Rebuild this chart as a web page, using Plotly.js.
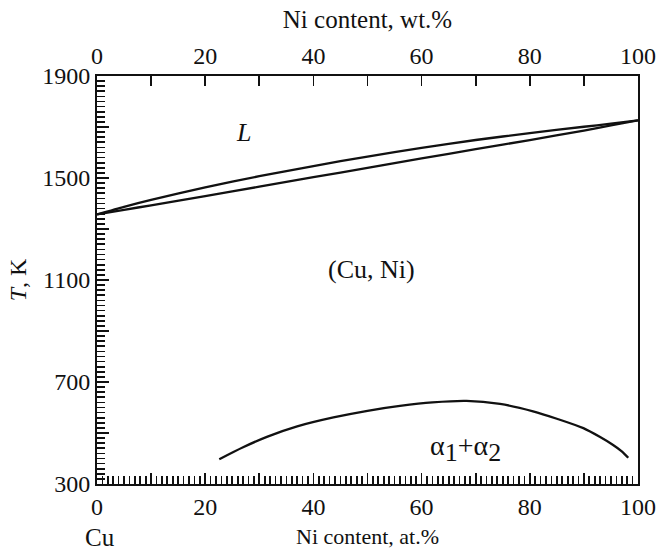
<!DOCTYPE html>
<html>
<head>
<meta charset="utf-8">
<script src="https://cdn.plot.ly/plotly-3.0.1.min.js"></script>
<style>html,body{margin:0;padding:0;background:#fff;}#chart{width:662px;height:552px;}</style>
</head>
<body>
<div id="chart"></div>
<script>
// Composition, at.% Ni
const liqX = [0, 5, 10, 20, 30, 40, 50, 60, 70, 80, 90, 95, 100];
const liqT = [1357, 1387, 1414, 1463, 1507, 1547, 1584, 1618, 1649, 1676, 1701, 1713, 1726];
const solX = [0, 5, 10, 20, 30, 40, 50, 60, 70, 80, 90, 95, 100];
const solT = [1357, 1375, 1393, 1429, 1466, 1503, 1540, 1577, 1613, 1649, 1686, 1706, 1726];
const gapX = [22.6, 27, 31.4, 37, 43.7, 50, 56, 62, 68.3, 74.5, 80.6, 85, 89.9, 93, 95.4, 97, 98.2];
const gapT = [397, 444, 485, 526, 561, 587, 606, 620, 626, 614, 585, 556, 519, 484, 453, 428, 403];

// tick labels shown on the major ticks (every other major tick is left blank)
const xLabelAlias = {10: ' ', 30: ' ', 50: ' ', 70: ' ', 90: ' '};
const yLabelAlias = {500: ' ', 900: ' ', 1300: ' ', 1700: ' '};

const labelX = ['Cu', 'Ni'];
const labelPos = [0.5, 100.7];

const lineStyle = {color: '#111', width: 2.3};
const serif = 'Liberation Serif, Times New Roman, serif';

const traces = [
  {x: liqX, y: liqT, mode: 'lines', line: Object.assign({shape: 'spline', smoothing: 0.6}, lineStyle), hoverinfo: 'skip'},
  {x: solX, y: solT, mode: 'lines', line: Object.assign({shape: 'spline', smoothing: 0.6}, lineStyle), hoverinfo: 'skip'},
  {x: gapX, y: gapT, mode: 'lines', line: Object.assign({shape: 'spline', smoothing: 0.8}, lineStyle), hoverinfo: 'skip'},
  {x: [0, 100], y: [300, 300], xaxis: 'x2', mode: 'lines', line: {width: 0}, hoverinfo: 'skip'}
];

const tickFont = {family: serif, size: 24, color: '#111'};

const layout = {
  width: 662, height: 552,
  margin: {l: 97, r: 24, t: 76, b: 68},
  paper_bgcolor: '#fff', plot_bgcolor: '#fff',
  showlegend: false,
  font: {family: serif, size: 20, color: '#111'},
  xaxis: {
    range: [0, 100], showgrid: false, zeroline: false,
    showline: true, linecolor: '#111', linewidth: 2,
    tickmode: 'linear', tick0: 0, dtick: 10,
    ticks: 'inside', ticklen: 11, tickwidth: 1.6, tickcolor: '#111',
    labelalias: xLabelAlias, tickfont: tickFont,
    minor: {ticks: 'inside', dtick: 1, ticklen: 8, tickwidth: 1.7, tickcolor: '#111'},
    title: {text: 'Ni content, at.%', font: {size: 22}, standoff: 10}
  },
  xaxis2: {
    range: [0, 100], overlaying: 'x', side: 'top', showgrid: false, zeroline: false,
    showline: true, linecolor: '#111', linewidth: 2,
    tickmode: 'linear', tick0: 0, dtick: 10,
    ticks: 'inside', ticklen: 10, tickwidth: 1.6, tickcolor: '#111',
    labelalias: xLabelAlias, tickfont: tickFont,
    title: {text: 'Ni content, wt.%', font: {size: 25}, standoff: 8}
  },
  yaxis: {
    range: [300, 1900], showgrid: false, zeroline: false,
    showline: true, linecolor: '#111', linewidth: 2, mirror: true,
    tickmode: 'linear', tick0: 300, dtick: 200,
    ticks: 'inside', ticklen: 12, tickwidth: 1.6, tickcolor: '#111',
    labelalias: yLabelAlias, tickfont: tickFont,
    minor: {ticks: 'inside', dtick: 20, ticklen: 8, tickwidth: 1.7, tickcolor: '#111'},
    title: {text: '<i>T</i>, K', font: {size: 24}, standoff: 9}
  },
  annotations: [
    {x: 27, y: 1680, xref: 'x', yref: 'y', text: '<i>L</i>', showarrow: false, font: {size: 26}},
    {x: 50.8, y: 1141, xref: 'x', yref: 'y', text: '(Cu, Ni)', showarrow: false, font: {size: 26}},
    {x: 68.2, y: 440, xref: 'x', yref: 'y', text: 'α<sub><span style="font-size:26px">1</span></sub>+α<sub><span style="font-size:26px">2</span></sub>', showarrow: false, font: {size: 28}},
    {x: labelPos[0], y: -0.13, xref: 'x', yref: 'paper', yanchor: 'middle', text: labelX[0], showarrow: false, font: {size: 25}},
    {x: labelPos[1], y: -0.13, xref: 'x', yref: 'paper', yanchor: 'middle', text: labelX[1], showarrow: false, font: {size: 25}}
  ]
};

Plotly.newPlot('chart', traces, layout, {displayModeBar: false, staticPlot: true});
</script>
</body>
</html>
